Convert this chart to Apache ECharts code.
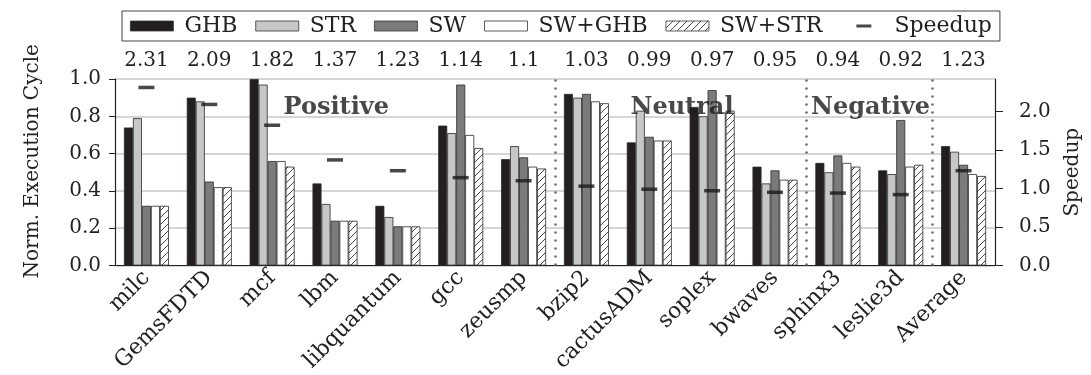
<!DOCTYPE html>
<html><head><meta charset="utf-8">
<script src="https://cdn.jsdelivr.net/npm/echarts@6/dist/echarts.min.js"></script>
<style>html,body{margin:0;padding:0;background:#fff}#c{width:1091px;height:375px}</style>
</head><body><div id="c"></div>
<script>
const categories = ['milc','GemsFDTD','mcf','lbm','libquantum','gcc','zeusmp','bzip2','cactusADM','soplex','bwaves','sphinx3','leslie3d','Average'];
const ghb   = [0.74,0.90,1.00,0.44,0.32,0.75,0.57,0.92,0.66,0.85,0.53,0.55,0.51,0.64];
const str   = [0.79,0.88,0.97,0.33,0.26,0.71,0.64,0.90,0.83,0.80,0.44,0.50,0.49,0.61];
const sw    = [0.32,0.45,0.56,0.24,0.21,0.97,0.58,0.92,0.69,0.94,0.51,0.59,0.78,0.54];
const swGhb = [0.32,0.42,0.56,0.24,0.21,0.70,0.53,0.88,0.67,0.82,0.46,0.55,0.53,0.49];
const swStr = [0.32,0.42,0.53,0.24,0.21,0.63,0.52,0.87,0.67,0.83,0.46,0.53,0.54,0.48];
const speedup = [2.31,2.09,1.82,1.37,1.23,1.14,1.1,1.03,0.99,0.97,0.95,0.94,0.92,1.23];
const seriesNames = ['GHB','STR','SW','SW+GHB','SW+STR','Speedup'];
const groupBreaks = [7, 11, 13];
const groupNames = ['Positive','Neutral','Negative'];
const groupLabelPos = [[3.52,0.847],[9.02,0.847],[12.02,0.845]];

const FONT = 'DejaVu Serif';
const TXT = '#222';

// hatch pattern
const hc = document.createElement('canvas');
hc.width = 7; hc.height = 7;
const g = hc.getContext('2d');
g.fillStyle = '#fff'; g.fillRect(0,0,7,7);
g.strokeStyle = '#333'; g.lineWidth = 0.9;
g.beginPath();
g.moveTo(0,7); g.lineTo(7,0);
g.moveTo(-1,1); g.lineTo(1,-1);
g.moveTo(6,8); g.lineTo(8,6);
g.stroke();
const hatch = {image: hc, repeat: 'repeat'};

const barColors = ['#231f20','#c6c7c8','#7b7b7d','#ffffff', hatch];
const barData = [ghb, str, sw, swGhb, swStr];

const chart = echarts.init(document.getElementById('c'), null, {renderer:'canvas'});
const grid = {left:115, right:94, top:79, bottom:108};

const series = barData.map((d,i)=>({
  name: seriesNames[i], type:'bar', xAxisIndex:0, yAxisIndex:0,
  data: d, barWidth:9, barGap:'0%',
  itemStyle:{color: barColors[i], borderColor:'#2a2a2a', borderWidth:0.8},
  emphasis:{disabled:true}
}));
series.push({
  name:'Speedup', type:'scatter', xAxisIndex:0, yAxisIndex:1,
  data: speedup, symbol:'rect', symbolSize:[16,3.5],
  itemStyle:{color:'#1a1a1a'}, z:5
});
series.push({
  type:'scatter', xAxisIndex:2, yAxisIndex:0, silent:true,
  data: groupLabelPos.map((p,i)=>({value:p, name:groupNames[i]})),
  symbolSize:1, itemStyle:{color:'rgba(0,0,0,0)'}, z:6,
  label:{show:true, position:'inside', formatter: p=>p.name,
    fontFamily:FONT, fontWeight:'bold', fontSize:24, color:'#1a1a1a'},
  markLine:{silent:true, symbol:'none', label:{show:false},
    lineStyle:{type:[2,6], color:'#666', width:2.5},
    data: groupBreaks.map(b=>({xAxis:b}))}
});

chart.setOption({
  animation:false,
  backgroundColor:'#fff',
  textStyle:{fontFamily:FONT},
  grid: grid,
  legend:{
    left:122, top:11, padding:[4,8,4,8], borderColor:'#444', borderWidth:1,
    itemGap:18, itemWidth:43, itemHeight:10, icon:'rect',
    itemStyle:{borderColor:'#333', borderWidth:0.8},
    textStyle:{fontFamily:FONT, fontSize:22, color:TXT, padding:[0,0,0,6]},
    data: seriesNames.map(n=> n==='Speedup'
      ? {name:n, icon:'path://M0,0M43,10M16,3.5h15v3h-15z', itemStyle:{borderWidth:0}}
      : {name:n})
  },
  xAxis:[
    {type:'category', data:categories, position:'bottom',
     axisLine:{lineStyle:{color:'#222', width:1.2}},
     axisTick:{length:7, lineStyle:{color:'#222'}},
     axisLabel:{rotate:45, fontSize:22, color:TXT, fontFamily:FONT, margin:9, interval:0},
     splitLine:{show:false}},
    {type:'category', data:speedup.map(String), position:'top',
     axisLine:{lineStyle:{color:'#222', width:1.2}},
     axisTick:{show:false},
     axisLabel:{fontSize:20, color:TXT, fontFamily:FONT, margin:8, interval:0}},
    {type:'value', min:0, max:categories.length, show:false}
  ],
  yAxis:[
    {type:'value', min:0, max:1, interval:0.2, position:'left',
     name:'Norm. Execution Cycle', nameLocation:'middle', nameGap:72,
     nameTextStyle:{fontSize:20, color:TXT, fontFamily:FONT, padding:[0,0,0,22]},
     axisLine:{show:true, lineStyle:{color:'#222', width:1.2}},
     axisTick:{show:true, length:6, lineStyle:{color:'#222'}},
     axisLabel:{fontSize:20, color:TXT, fontFamily:FONT, margin:14, formatter:v=>v.toFixed(1)},
     splitLine:{show:true, lineStyle:{color:'#c8c8c8', width:1.5}}},
    {type:'value', min:0, max:2.42, interval:0.5, position:'right',
     name:'Speedup', nameLocation:'middle', nameGap:68,
     nameTextStyle:{fontSize:20, color:TXT, fontFamily:FONT},
     axisLine:{show:true, lineStyle:{color:'#222', width:1.2}},
     axisTick:{show:true, length:8, lineStyle:{color:'#222'}},
     axisLabel:{fontSize:20, color:TXT, fontFamily:FONT, margin:24, showMaxLabel:false, formatter:v=>v.toFixed(1)},
     splitLine:{show:false}}
  ],
  series: series
});
</script></body></html>
